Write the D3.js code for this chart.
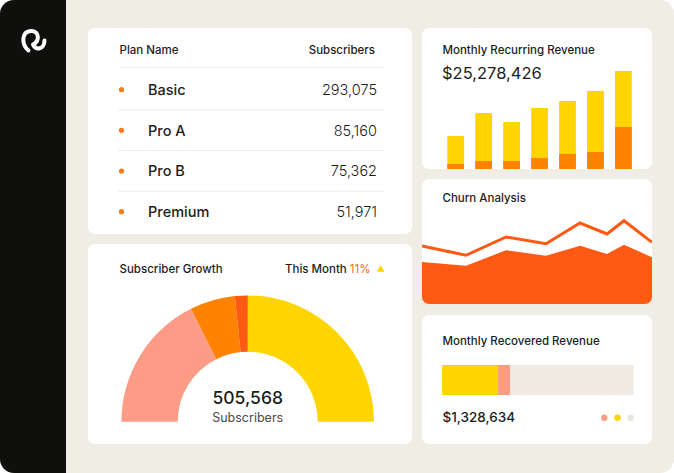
<!DOCTYPE html>
<html>
<head>
<meta charset="utf-8">
<script src="https://cdn.jsdelivr.net/npm/d3@7"></script>
<style>
  html, body { margin: 0; padding: 0; background: #ffffff; }
  svg { display: block; }
  text { font-family: Inter, "Noto Sans", sans-serif; }
</style>
</head>
<body>
<svg id="chart" width="674" height="473"></svg>
<script>
// ---------- DATA ----------
const planNames = ["Basic", "Pro A", "Pro B", "Premium"];
const planSubscribers = [293075, 85160, 75362, 51971];
const tableHeaders = ["Plan Name", "Subscribers"];

const gaugeSegments = ["Basic share", "Pro A share", "Pro B share", "Premium share"];
const gaugeShares = [35.2, 11.6, 3.3, 50.0];           // read from the arc, left to right
const gaugeTotalLabel = "505,568";
const gaugeSubLabel = "Subscribers";
const growthTitle = "Subscriber Growth";
const growthPeriod = "This Month";
const growthValue = "11%";

const mrrTitle = "Monthly Recurring Revenue";
const mrrValue = "$25,278,426";
const mrrMonths = ["M1", "M2", "M3", "M4", "M5", "M6", "M7"];
const mrrTotal = [33, 56, 47, 61, 68, 78, 98];
const mrrExpansion = [5, 8, 8, 11, 15, 17, 42];

const churnTitle = "Churn Analysis";
const churnX = [0, 44, 84, 124, 158, 185, 202, 230];
const churnLine = [58, 48.7, 67, 60.3, 81, 70, 83.3, 61.7];
const churnArea = [42, 38.3, 53.7, 48.3, 58.3, 50, 59.3, 46.7];

const recoveredTitle = "Monthly Recovered Revenue";
const recoveredValue = "$1,328,634";
const recoveredParts = ["Recovered", "Pending", "Remaining"];
const recoveredShares = [29.2, 6.3, 64.5];

// ---------- STYLE ----------
const C = {
  sidebar: "#0f0f0e", bg: "#f0ede4", card: "#ffffff", text: "#1c1c1c", sub: "#4a4a4a",
  yellow: "#ffd500", orange: "#ff8200", red: "#ff5a14", pink: "#fd9c86",
  churn: "#ff5a14", dot: "#f47c20", grayTrack: "#efebe2", sep: "#f0ede4", accent: "#f06a2a"
};
const gaugeColors = [C.pink, C.orange, C.red, C.yellow];
const recoveredColors = [C.yellow, C.pink, C.grayTrack];
const dotColors = [C.pink, C.yellow, "#e9e7e1"];

const svg = d3.select("#chart");
const W = 674, H = 473;
const defs = svg.append("defs");

// outer frame
defs.append("clipPath").attr("id", "frame")
  .append("rect").attr("width", W).attr("height", H).attr("rx", 14);
const root = svg.append("g").attr("clip-path", "url(#frame)");
root.append("rect").attr("width", W).attr("height", H).attr("fill", C.bg);
root.append("rect").attr("width", 66).attr("height", H).attr("fill", C.sidebar);

// logo
root.append("path")
  .attr("d", "M28.5,50.5 C21,44 21.5,31.5 31,31 C39.5,30.8 40,41 33,44.5 C36,50.5 44,50 44.5,40.5")
  .attr("fill", "none").attr("stroke", "#fff").attr("stroke-width", 4)
  .attr("stroke-linecap", "round").attr("stroke-linejoin", "round");

function card(x, y, w, h, id) {
  defs.append("clipPath").attr("id", id)
    .append("rect").attr("x", x).attr("y", y).attr("width", w).attr("height", h).attr("rx", 7);
  root.append("rect").attr("x", x).attr("y", y).attr("width", w).attr("height", h)
    .attr("rx", 7).attr("fill", C.card);
  return root.append("g").attr("clip-path", `url(#${id})`);
}
function title(g, x, y, t) {
  return g.append("text").attr("x", x).attr("y", y).text(t)
    .attr("font-size", 11.5).attr("font-weight", 500).attr("fill", C.text);
}

// ---------- TABLE CARD ----------
const tc = card(88, 28, 324, 206, "c1");
title(tc, 119.5, 53.5, tableHeaders[0]);
title(tc, 375, 53.5, tableHeaders[1]).attr("text-anchor", "end");
const rowY = d3.scalePoint().domain(planNames).range([95, 217]);
tc.append("line").attr("x1", 119).attr("x2", 384).attr("y1", 67.5).attr("y2", 67.5)
  .attr("stroke", C.sep).attr("stroke-width", 1);
const fmt = d3.format(",");
planNames.forEach((p, i) => {
  const y = rowY(p);
  tc.append("circle").attr("cx", 121.5).attr("cy", y - 5.3).attr("r", 2.6).attr("fill", C.dot);
  tc.append("text").attr("x", 148).attr("y", y).text(p)
    .attr("font-size", 14.5).attr("font-weight", 500).attr("fill", C.text);
  tc.append("text").attr("x", 377).attr("y", y).attr("text-anchor", "end").text(fmt(planSubscribers[i]))
    .attr("font-size", 14.5).attr("font-weight", 300).attr("fill", C.text);
  if (i < planNames.length - 1) {
    const sy = (y + rowY(planNames[i + 1])) / 2 - 5.5;
    tc.append("line").attr("x1", 118).attr("x2", 384).attr("y1", sy).attr("y2", sy)
      .attr("stroke", C.sep).attr("stroke-width", 1);
  }
});

// ---------- GAUGE CARD ----------
const gc = card(88, 244, 324, 200, "c2");
title(gc, 119.5, 273, growthTitle);
const gt = gc.append("text").attr("x", 285).attr("y", 273).attr("font-size", 11.5)
  .attr("font-weight", 500).attr("fill", C.text);
gt.append("tspan").text(growthPeriod + " ");
gt.append("tspan").attr("fill", C.accent).attr("font-weight", 400).text(growthValue);
gc.append("path").attr("d", d3.symbol(d3.symbolTriangle, 26)())
  .attr("transform", "translate(380.7,269.6)").attr("fill", C.yellow);

const pie = d3.pie().sort(null).startAngle(-Math.PI / 2).endAngle(Math.PI / 2).value(d => d);
const arc = d3.arc().innerRadius(70).outerRadius(126.3);
gc.append("g").attr("transform", "translate(247.7,421.7)")
  .selectAll("path").data(pie(gaugeShares)).join("path")
  .attr("d", arc).attr("fill", (d, i) => gaugeColors[i]);
gc.append("text").attr("x", 247.7).attr("y", 404).attr("text-anchor", "middle")
  .text(gaugeTotalLabel).attr("font-size", 17.5).attr("font-weight", 500).attr("fill", C.text);
gc.append("text").attr("x", 247.7).attr("y", 421.5).attr("text-anchor", "middle")
  .text(gaugeSubLabel).attr("font-size", 12.5).attr("font-weight", 400).attr("fill", C.sub);

// ---------- MRR CARD ----------
const mc = card(422, 28, 230, 141, "c3");
title(mc, 442.5, 53.5, mrrTitle);
mc.append("text").attr("x", 442).attr("y", 78.5).text(mrrValue)
  .attr("font-size", 16.5).attr("font-weight", 400).attr("fill", C.text);
const bx = d3.scaleBand().domain(mrrMonths).range([447.3, 631.8]).paddingInner(0.4).paddingOuter(0);
const by = d3.scaleLinear().domain([0, 100]).range([169, 69]);
mc.selectAll("rect.tot").data(mrrTotal).join("rect").attr("class", "tot")
  .attr("x", (d, i) => bx(mrrMonths[i])).attr("width", bx.bandwidth())
  .attr("y", d => by(d)).attr("height", d => by(0) - by(d)).attr("fill", C.yellow);
mc.selectAll("rect.exp").data(mrrExpansion).join("rect").attr("class", "exp")
  .attr("x", (d, i) => bx(mrrMonths[i])).attr("width", bx.bandwidth())
  .attr("y", d => by(d)).attr("height", d => by(0) - by(d)).attr("fill", C.orange);

// ---------- CHURN CARD ----------
const cc = card(422, 179, 230, 125, "c4");
title(cc, 442.5, 201.5, churnTitle);
const cx = d3.scaleLinear().domain([0, 230]).range([422, 652]);
const cy = d3.scaleLinear().domain([0, 100]).range([304, 204]);
cc.append("path").datum(churnArea)
  .attr("d", d3.area().x((d, i) => cx(churnX[i])).y0(cy(0)).y1(d => cy(d)))
  .attr("fill", C.churn);
cc.append("path").datum(churnLine)
  .attr("d", d3.line().x((d, i) => cx(churnX[i])).y(d => cy(d)))
  .attr("fill", "none").attr("stroke", C.churn).attr("stroke-width", 3).attr("stroke-linejoin", "miter");

// ---------- RECOVERED CARD ----------
const rc = card(422, 315, 230, 129, "c5");
title(rc, 442.5, 344.5, recoveredTitle);
const rx = d3.scaleLinear().domain([0, 100]).range([442, 633.5]);
let acc = 0;
const stacks = recoveredShares.map(v => { const s = acc; acc += v; return [s, acc]; });
rc.selectAll("rect.rec").data(stacks.slice().reverse()).join("rect").attr("class", "rec")
  .attr("x", d => rx(d[0])).attr("width", d => rx(d[1]) - rx(d[0]))
  .attr("y", 365).attr("height", 30)
  .attr("fill", (d, i) => recoveredColors[recoveredColors.length - 1 - i]);
rc.append("text").attr("x", 442.5).attr("y", 421.5).text(recoveredValue)
  .attr("font-size", 13.5).attr("font-weight", 500).attr("fill", C.text);
const dx = d3.scalePoint().domain(recoveredParts).range([604.3, 630.7]);
rc.selectAll("circle.leg").data(recoveredParts).join("circle").attr("class", "leg")
  .attr("cx", d => dx(d)).attr("cy", 417.7).attr("r", 3.2)
  .attr("fill", (d, i) => dotColors[i]);
</script>
</body>
</html>
